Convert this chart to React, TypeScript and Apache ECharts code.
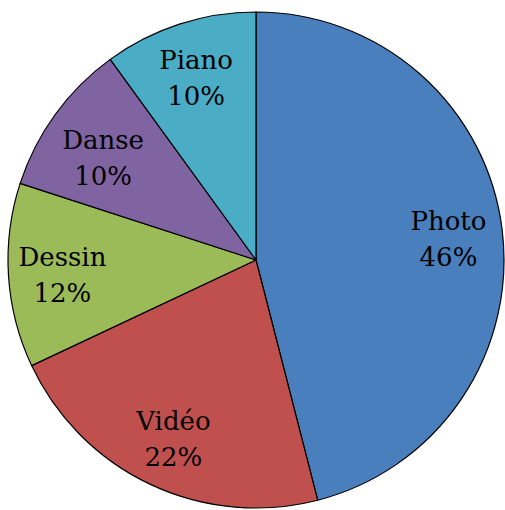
import React, { useEffect, useRef } from "react";
import * as echarts from "echarts";

const categories = ["Photo", "Vidéo", "Dessin", "Danse", "Piano"];
const values = [46, 22, 12, 10, 10];
const colors = ["#4A7FBD", "#C0504D", "#9BBB59", "#8064A2", "#4BACC6"];
const FONT = "DejaVu Serif";

export default function App() {
  const ref = useRef<HTMLDivElement>(null);
  useEffect(() => {
    if (!ref.current) return;
    const chart = echarts.init(ref.current, null, { renderer: "svg" });
    const data = categories.map((name, i) => ({ name, value: values[i] }));
    const center = [256, 260];
    const R = 248;
    chart.setOption({
      animation: false,
      textStyle: { fontFamily: FONT },
      series: [
        {
          type: "pie",
          center,
          radius: [0, R],
          startAngle: 90,
          clockwise: true,
          silent: true,
          data: data.map((d, i) => ({ ...d, itemStyle: { color: colors[i] } })),
          itemStyle: { borderColor: "#000", borderWidth: 1.2 },
          label: { show: false },
          labelLine: { show: false },
        },
        {
          type: "pie",
          center,
          radius: [Math.round(R * 0.54), R],
          startAngle: 90,
          clockwise: true,
          silent: true,
          data: data.map((d) =>
            d.name === "Danse" ? { ...d, label: { offset: [4, 12] } } : d
          ),
          itemStyle: { color: "rgba(0,0,0,0)", borderWidth: 0 },
          label: {
            show: true,
            position: "inside",
            formatter: "{b}\n{c}%",
            color: "#000",
            fontFamily: FONT,
            fontSize: 26,
            lineHeight: 36,
            align: "center",
            offset: [0, 3],
          },
          labelLine: { show: false },
        },
      ],
    });
    return () => chart.dispose();
  }, []);
  return (
    <div
      ref={ref}
      style={{ position: "absolute", left: 0, top: 0, width: 505, height: 510, background: "#fff" }}
    />
  );
}
